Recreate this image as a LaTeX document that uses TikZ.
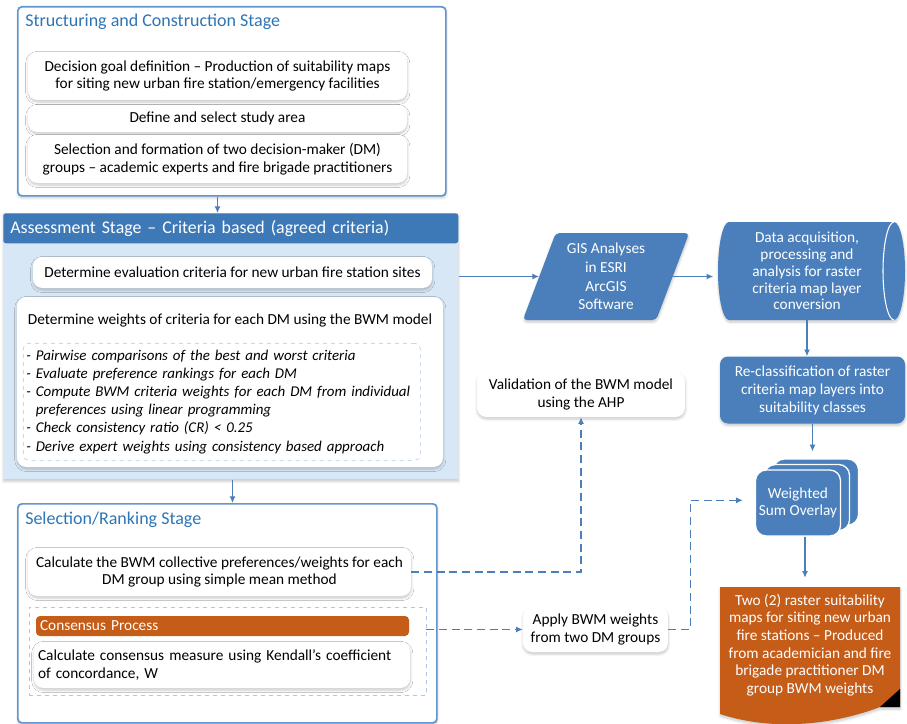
\documentclass[tikz,border=0pt]{standalone}
\usepackage{fontspec}
\setmainfont{Carlito}
\usetikzlibrary{arrows.meta, shapes.geometric, shadows, shadows.blur}

\newlength{\pxu}
\setlength{\pxu}{0.75pt}

\definecolor{stageblue}{RGB}{98,150,204}
\definecolor{titleblue}{RGB}{46,117,182}
\definecolor{shapeblue}{RGB}{74,127,187}
\definecolor{barblue}{RGB}{62,121,183}
\definecolor{panelblue}{RGB}{216,231,246}
\definecolor{dashblue}{RGB}{172,200,230}
\definecolor{burnt}{RGB}{197,92,24}

\tikzset{
    every node/.append style={font=\fontsize{11.5}{13.2}\selectfont},
    softshadow/.style={blur shadow={shadow blur steps=6, shadow xshift=0.2pt, shadow yshift=-1.5pt, shadow opacity=22}},
    stagebox/.style={draw=stageblue, line width=1.3pt, rounded corners=3pt, fill=white, softshadow},
    stagetitle/.style={anchor=west, inner sep=0pt, text=titleblue, font=\fontsize{13.5}{16}\selectfont},
    whitebox/.style={fill=white, rounded corners=7pt, align=center, inner sep=0pt, softshadow},
    bluebox/.style={fill=shapeblue, text=white, align=center, inner sep=0pt},
    flow/.style={draw=shapeblue, line width=0.8pt, -{Latex[length=5pt,width=4.5pt]}},
    dashflow/.style={flow, dash pattern=on 6pt off 3.5pt}
}

\begin{document}
\begin{tikzpicture}[x=0.75pt, y=-0.75pt]
    \useasboundingbox (0,0) rectangle (907,724);

    % structuring and construction stage
    \node[stagebox, anchor=north west, minimum width=428\pxu, minimum height=189\pxu] (struct) at (17,6) {};
    \node[stagetitle] (structtitle) at (25,22) {Structuring and Construction Stage};
    \node[whitebox, minimum width=379\pxu, minimum height=48\pxu] (goal) at (217.5,76) {Decision goal definition – Production of suitability maps\\for siting new urban fire station/emergency facilities};
    \node[whitebox, minimum width=379\pxu, minimum height=27\pxu] (area) at (217.5,118.5) {Define and select study area};
    \node[whitebox, minimum width=379\pxu, minimum height=48\pxu] (groups) at (217.5,159) {Selection and formation of two decision-maker (DM)\\groups – academic experts and fire brigade practitioners};

    % assessment stage
    \node[anchor=north west, fill=panelblue, minimum width=455\pxu, minimum height=266\pxu, softshadow] (panel) at (3,213) {};
    \node[anchor=north west, fill=barblue, rounded corners=2pt, minimum width=455\pxu, minimum height=30\pxu, text width=441\pxu, inner xsep=7\pxu, align=left, text=white, font=\fontsize{13.4}{16}\selectfont] (assesshead) at (3,213) {Assessment Stage – Criteria based (agreed criteria)};
    \node[whitebox, minimum width=399\pxu, minimum height=31\pxu] (evalcrit) at (232.5,272.5) {Determine evaluation criteria for new urban fire station sites};
    \node[whitebox, minimum width=426\pxu, minimum height=170\pxu] (bwm) at (230,382) {};
    \node (bwmtitle) at (230,320) {Determine weights of criteria for each DM using the BWM model};
    \node[draw=dashblue, dashed, rounded corners=4pt, anchor=north west, minimum width=397\pxu, minimum height=117\pxu, text width=391\pxu, inner xsep=3\pxu, align=left, font=\fontsize{11.2}{13.6}\selectfont\itshape] (bwmsteps) at (23,343) {- Pairwise comparisons of the best and worst criteria\\- Evaluate preference rankings for each DM\\- Compute BWM criteria weights for each DM from individual\\\phantom{- }preferences using linear programming\\- Check consistency ratio (CR) < 0.25\\- Derive expert weights using consistency based approach};

    \draw[flow] (struct.south -| goal.south) -- (assesshead.north -| goal.south);

    % selection/ranking stage
    \node[stagebox, anchor=north west, minimum width=419\pxu, minimum height=219\pxu] (select) at (17,503) {};
    \node[stagetitle] (selecttitle) at (25,520) {Selection/Ranking Stage};
    \node[whitebox, minimum width=383\pxu, minimum height=48\pxu] (calcbwm) at (219.5,572) {Calculate the BWM collective preferences/weights for each\\DM group using simple mean method};
    \node[draw=dashblue, dashed, minimum width=397\pxu, minimum height=88\pxu] (consbox) at (227.5,651) {};
    \node[fill=burnt, rounded corners=3pt, minimum width=373\pxu, minimum height=20\pxu, text width=365\pxu, inner xsep=4\pxu, align=left, text=white] (consbar) at (222.5,626) {Consensus Process};
    \node[whitebox, minimum width=376\pxu, minimum height=46\pxu, text width=368\pxu, align=left] (kendall) at (222,665) {Calculate consensus measure using Kendall’s coefficient\\of concordance, W};

    \draw[flow] (panel.south -| evalcrit.south) -- (select.north -| evalcrit.south);

    % gis side
    \node[bluebox, trapezium, trapezium left angle=69, trapezium right angle=111, trapezium stretches=true, rounded corners=3pt, minimum width=168\pxu, minimum height=87\pxu, font=\fontsize{11.5}{14}\selectfont, softshadow] (gis) at (606,276.5) {GIS Analyses\\in ESRI\\ArcGIS\\Software};

    \fill[shapeblue, softshadow] (729,222) -- (894,222) arc[start angle=-90, end angle=90, x radius=11, y radius=49] -- (729,320) arc[start angle=90, end angle=270, x radius=11, y radius=49] -- cycle;
    \draw[white, line width=0.8pt] (894,222) arc[start angle=270, end angle=90, x radius=11, y radius=49];
    \node[bluebox, fill=none, minimum width=187\pxu, minimum height=98\pxu, font=\fontsize{11.5}{12.6}\selectfont] (data) at (807,271) {Data acquisition,\\processing and\\analysis for raster\\criteria map layer\\conversion};

    \node[bluebox, rounded corners=6pt, minimum width=185\pxu, minimum height=67\pxu, font=\fontsize{11.5}{13.5}\selectfont, softshadow] (reclass) at (812.5,390) {Re-classification of raster\\criteria map layers into\\suitability classes};

    \node[bluebox, draw=white, line width=1pt, rounded corners=8pt, minimum width=85\pxu, minimum height=66\pxu, double copy shadow={shadow xshift=6.75pt, shadow yshift=4.1pt, fill=shapeblue, draw=white, line width=1pt}] (wso) at (798,503) {Weighted\\Sum Overlay};

    \fill[burnt, softshadow] (720,587) -- (900,587) -- (900,707) -- (880,707) .. controls (835,724) and (775,732) .. (720,714) -- cycle;
    \fill[black] (880,707) -- (900,689) -- (900,707) -- cycle;
    \node[bluebox, fill=none, minimum width=180\pxu, minimum height=116\pxu] (out) at (810,645) {Two (2) raster suitability\\maps for siting new urban\\fire stations – Produced\\from academician and fire\\brigade practitioner DM\\group BWM weights};

    \node[whitebox, minimum width=208\pxu, minimum height=45\pxu] (valid) at (581,394.5) {Validation of the BWM model\\using the AHP};
    \node[whitebox, minimum width=145\pxu, minimum height=45\pxu] (apply) at (595.5,629.5) {Apply BWM weights\\from two DM groups};

    % connectors
    \draw[flow] (panel.east |- gis.west) -- (gis.west);
    \draw[flow] (gis.east) -- (gis.east -| data.west);
    \draw[flow] (data.south) -- (data.south |- reclass.north);
    \draw[flow] (reclass.south) -- ([yshift=13.5pt]wso.north -| reclass.south);
    \draw[flow] ([xshift=-3.75pt]out.north |- wso.south) -- ([xshift=-3.75pt, yshift=6.75pt]out.north);
    \draw[dashflow] (calcbwm.east) -| (valid.south);
    \draw[dashflow] (consbox.east |- apply.west) -- (apply.west);
    \draw[dashflow] (apply.east) -- ++(22,0) |- ([xshift=-9pt, yshift=2pt]wso.west);
\end{tikzpicture}
\end{document}
